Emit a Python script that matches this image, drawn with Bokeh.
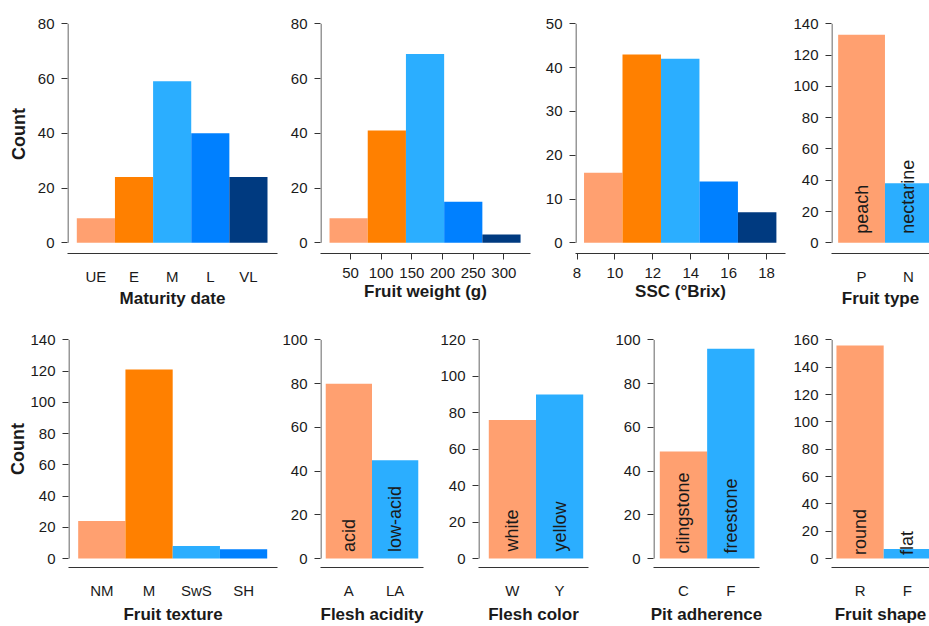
from math import pi
from bokeh.plotting import figure
from bokeh.layouts import column, row
from bokeh.models import FixedTicker, Range1d
from bokeh.core.properties import value
from bokeh.embed import file_html
from bokeh.resources import INLINE

# ---------------- data ----------------
maturity_cats = ["UE", "E", "M", "L", "VL"]
maturity_counts = [9, 24, 59, 40, 24]
maturity_yticks = [0, 20, 40, 60, 80]

weight_edges = [15.8, 78.1, 140.4, 202.7, 265.0, 327.3]
weight_counts = [9, 41, 69, 15, 3]
weight_xticks = [50, 100, 150, 200, 250, 300]
weight_yticks = [0, 20, 40, 60, 80]

ssc_edges = [8.37, 10.40, 12.43, 14.46, 16.49, 18.52]
ssc_counts = [16, 43, 42, 14, 7]
ssc_xticks = [8, 10, 12, 14, 16, 18]
ssc_yticks = [0, 10, 20, 30, 40, 50]

type_cats = ["P", "N"]
type_counts = [133, 38]
type_names = ["peach", "nectarine"]
type_yticks = [0, 20, 40, 60, 80, 100, 120, 140]

texture_cats = ["NM", "M", "SwS", "SH"]
texture_counts = [24, 121, 8, 6]
texture_yticks = [0, 20, 40, 60, 80, 100, 120, 140]

acidity_cats = ["A", "LA"]
acidity_counts = [80, 45]
acidity_names = ["acid", "low-acid"]
acidity_yticks = [0, 20, 40, 60, 80, 100]

color_cats = ["W", "Y"]
color_counts = [76, 90]
color_names = ["white", "yellow"]
color_yticks = [0, 20, 40, 60, 80, 100, 120]

pit_cats = ["C", "F"]
pit_counts = [49, 96]
pit_names = ["clingstone", "freestone"]
pit_yticks = [0, 20, 40, 60, 80, 100]

shape_cats = ["R", "F"]
shape_counts = [156, 7]
shape_names = ["round", "flat"]
shape_yticks = [0, 20, 40, 60, 80, 100, 120, 140, 160]

# ---------------- style ----------------
SALMON = "#FFA070"
ORANGE = "#FF8000"
SKY = "#2BAEFF"
BLUE = "#0080FF"
NAVY = "#003A80"
FIVE = [SALMON, ORANGE, SKY, BLUE, NAVY]
TWO = [SALMON, SKY]
FONT = "Liberation Sans"
TXT = "#1a1a1a"
AX = "#333333"


def panel(width, height, left, right, top, bottom, xr, yticks, span_px, zero_px,
          xlabel, xticks=None, cats=None, ylabel=None, ylabel_standoff=0,
          lab_standoff=10, title_standoff=2):
    frame_h = height - top - bottom
    frame_w = width - left - right
    ppu = span_px / yticks[-1]
    ystart = -zero_px / ppu
    yend = ystart + frame_h / ppu
    p = figure(width=width, height=height, x_range=Range1d(*xr),
               y_range=Range1d(ystart, yend), output_backend="svg",
               toolbar_location=None, min_border_left=left,
               min_border_right=right, min_border_top=top,
               min_border_bottom=bottom)
    p.outline_line_color = None
    p.grid.visible = False
    p.background_fill_color = "white"
    p.border_fill_color = "white"

    ya = p.yaxis[0]
    ya.ticker = FixedTicker(ticks=yticks)
    ya.axis_line_color = None
    ya.major_tick_out = 6
    ya.major_tick_in = 0
    ya.major_tick_line_color = AX
    ya.minor_tick_line_color = None
    ya.major_label_standoff = 7
    ya.major_label_text_font = FONT
    ya.major_label_text_font_size = "15px"
    ya.major_label_text_color = TXT
    if ylabel:
        ya.axis_label = ylabel
        ya.axis_label_text_font = FONT
        ya.axis_label_text_font_size = "18px"
        ya.axis_label_text_font_style = "bold"
        ya.axis_label_text_color = TXT
        ya.axis_label_standoff = ylabel_standoff

    xa = p.xaxis[0]
    if cats is not None:
        pos = list(range(1, len(cats) + 1))
        xa.ticker = FixedTicker(ticks=pos)
        xa.major_label_overrides = {k: c for k, c in zip(pos, cats)}
        xa.major_tick_line_color = None
    else:
        xa.ticker = FixedTicker(ticks=xticks)
        xa.major_tick_line_color = AX
    xa.major_tick_out = 6
    xa.major_tick_in = 0
    xa.minor_tick_line_color = None
    xa.axis_line_color = AX
    xa.major_label_standoff = lab_standoff
    xa.major_label_text_font = FONT
    xa.major_label_text_font_size = "15px"
    xa.major_label_text_color = TXT
    xa.axis_label = xlabel
    xa.axis_label_text_font = FONT
    xa.axis_label_text_font_size = "17px"
    xa.axis_label_text_font_style = "bold"
    xa.axis_label_text_color = TXT
    xa.axis_label_standoff = title_standoff

    # y-axis line only between first and last tick (R style)
    xline = xr[0] + 0.5 * (xr[1] - xr[0]) / frame_w
    p.segment(x0=[xline], y0=[yticks[0]], x1=[xline], y1=[yticks[-1]],
              line_color=AX, line_width=1)
    return p


def cat_bars(p, counts, colors, names=None, lift=6):
    pos = list(range(1, len(counts) + 1))
    p.vbar(x=pos, top=counts, bottom=0, width=1, fill_color=colors,
           line_color=None)
    if names:
        p.text(x=pos, y=[0] * len(pos), text=names, angle=pi / 2,
               text_align="left", text_baseline="middle",
               text_font=value(FONT), text_font_size="18px",
               text_color=TXT, y_offset=-lift)


def hist_bars(p, edges, counts, colors):
    p.quad(left=edges[:-1], right=edges[1:], bottom=0, top=counts,
           fill_color=colors, line_color=None)


H1, T1, B1 = 312, 14, 59
H2, T2, B2 = 314, 18, 58
S1, Z1 = 219.0, 10.7
S2, Z2 = 219.5, 9.0
BOT = dict(lab_standoff=8, title_standoff=3)
TOP = dict(lab_standoff=8, title_standoff=1)

# top row
p1 = panel(280, H1, 67, 3, T1, B1, (0.256, 5.762), maturity_yticks, S1, Z1,
           "Maturity date", cats=maturity_cats, ylabel="Count", ylabel_standoff=6,
           **TOP)
cat_bars(p1, maturity_counts, FIVE)

p2 = panel(255, H1, 40, 5, T1, B1, (1.09, 343.5), weight_yticks, S1, Z1,
           "Fruit weight (g)", xticks=weight_xticks, **TOP)
hist_bars(p2, weight_edges, weight_counts, FIVE)

p3 = panel(255, H1, 40, 5, T1, B1, (7.92, 19.0), ssc_yticks, S1, Z1,
           "SSC (°Brix)", xticks=ssc_xticks, **TOP)
hist_bars(p3, ssc_edges, ssc_counts, FIVE)

p4 = panel(139, H1, 40, 0, T1, B1, (0.358, 2.451), type_yticks, S1, Z1,
           "Fruit type", cats=type_cats, **TOP)
cat_bars(p4, type_counts, TWO, type_names, lift=9)

# bottom row
p5 = panel(279, H2, 68, 2, T2, B2, (0.295, 4.718), texture_yticks, S2, Z2,
           "Fruit texture", cats=texture_cats, ylabel="Count", ylabel_standoff=-1,
           **BOT)
cat_bars(p5, texture_counts, FIVE[:4])

p6 = panel(156, H2, 40, 12, T2, B2, (0.387, 2.613), acidity_yticks, S2, Z2,
           "Flesh acidity", cats=acidity_cats, **BOT)
cat_bars(p6, acidity_counts, TWO, acidity_names, lift=6.5)

p7 = panel(165, H2, 43, 12, T2, B2, (0.282, 2.612), color_yticks, S2, Z2,
           "Flesh color", cats=color_cats, **BOT)
cat_bars(p7, color_counts, TWO, color_names, lift=7)

p8 = panel(190, H2, 53, 31, T2, B2, (0.367, 2.606), pit_yticks, S2, Z2,
           "Pit adherence", cats=pit_cats, **BOT)
cat_bars(p8, pit_counts, TWO, pit_names, lift=5)

p9 = panel(139, H2, 40, 0, T2, B2, (0.395, 2.470), shape_yticks, S2, Z2,
           "Fruit shape", cats=shape_cats, **BOT)
cat_bars(p9, shape_counts, TWO, shape_names, lift=3.5)

layout = column(row(p1, p2, p3, p4), row(p5, p6, p7, p8, p9))

open("out.html", "w").write(file_html(layout, INLINE))
